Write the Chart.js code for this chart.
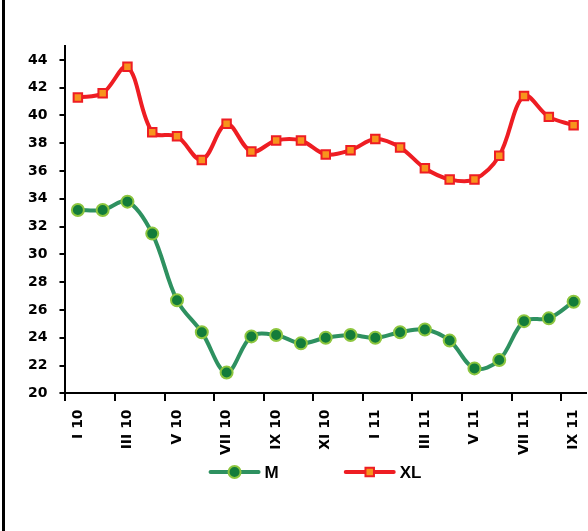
<!DOCTYPE html>
<html>
<head>
<meta charset="utf-8">
<script src="https://cdn.jsdelivr.net/npm/chart.js@4.4.0/dist/chart.umd.min.js"></script>
<style>
  body { margin: 0; background: #fff; }
  .wrap { position: relative; width: 588px; height: 531px; }
  .frame { position: absolute; left: 2px; top: 0; width: 3px; height: 531px; background: #000; }
  canvas { position: absolute; left: 0; top: 0; }
</style>
</head>
<body>
<div class="wrap">
  <div class="frame"></div>
  <canvas id="myChart" width="588" height="531"></canvas>
</div>
<script>
// data
const months = ['I 10', 'II 10', 'III 10', 'IV 10', 'V 10', 'VI 10', 'VII 10', 'VIII 10', 'IX 10', 'X 10', 'XI 10', 'XII 10',
  'I 11', 'II 11', 'III 11', 'IV 11', 'V 11', 'VI 11', 'VII 11', 'VIII 11', 'IX 11'];
const seriesM = [33.2, 33.2, 33.8, 31.5, 26.7, 24.4, 21.5, 24.1, 24.2, 23.6, 24.0, 24.2,
  24.0, 24.4, 24.6, 23.8, 21.8, 22.4, 25.2, 25.4, 26.6];
const seriesXL = [41.3, 41.6, 43.5, 38.8, 38.5, 36.8, 39.4, 37.4, 38.2, 38.2, 37.2, 37.5,
  38.3, 37.7, 36.2, 35.4, 35.4, 37.1, 41.4, 39.9, 39.3];
const yMin = 20;
const yMax = 45;
const yStep = 2;

const tickFont = { family: 'DejaVu Sans', weight: 'bold', size: 14 };

// legend with line + marker, like the spreadsheet one
const lineLegend = {
  id: 'lineLegend',
  afterDraw(chart) {
    const ctx = chart.ctx;
    const y = chart.height - 59;
    const segW = 52;
    const gap = 65;
    ctx.save();
    ctx.font = 'bold 17px "Liberation Sans"';
    const items = chart.data.datasets.map(ds => ({ ds, w: segW + 4 + ctx.measureText(ds.label).width }));
    const total = items.reduce((s, it) => s + it.w, 0) + gap * (items.length - 1);
    let x = chart.width / 2 + 21 - total / 2;
    items.forEach(({ ds, w }) => {
      ctx.strokeStyle = ds.borderColor;
      ctx.lineWidth = ds.borderWidth;
      ctx.lineCap = 'round';
      ctx.beginPath();
      ctx.moveTo(x + 2, y);
      ctx.lineTo(x + segW - 2, y);
      ctx.stroke();
      const cx = x + segW / 2;
      ctx.fillStyle = ds.pointBackgroundColor;
      ctx.strokeStyle = ds.pointBorderColor;
      ctx.lineWidth = ds.pointBorderWidth;
      ctx.beginPath();
      if (ds.pointStyle === 'rect') {
        const s = ds.pointRadius * Math.SQRT1_2;
        ctx.rect(cx - s, y - s, 2 * s, 2 * s);
      } else {
        ctx.arc(cx, y, ds.pointRadius, 0, Math.PI * 2);
      }
      ctx.fill();
      ctx.stroke();
      ctx.fillStyle = '#000';
      ctx.textBaseline = 'middle';
      ctx.textAlign = 'left';
      ctx.fillText(ds.label, x + segW + 4, y + 1);
      x += w + gap;
    });
    ctx.restore();
  }
};

const ctx = document.getElementById('myChart').getContext('2d');
const myChart = new Chart(ctx, {
  type: 'line',
  data: {
    labels: months,
    datasets: [
      {
        label: 'M',
        data: seriesM,
        borderColor: '#2e9160',
        borderWidth: 4,
        tension: 0.35,
        pointStyle: 'circle',
        pointRadius: 6,
        pointBackgroundColor: '#137c3a',
        pointBorderColor: '#8dc63f',
        pointBorderWidth: 2,
      },
      {
        label: 'XL',
        data: seriesXL,
        borderColor: '#ee1d23',
        borderWidth: 4,
        tension: 0.35,
        pointStyle: 'rect',
        pointRadius: 6,
        pointBackgroundColor: '#f7941d',
        pointBorderColor: '#ee1d23',
        pointBorderWidth: 2,
      },
    ]
  },
  options: {
    responsive: false,
    animation: false,
    layout: {
      autoPadding: false,
      padding: { left: 16, top: 46, right: 2, bottom: 76 }
    },
    plugins: {
      legend: { display: false },
      tooltip: { enabled: false },
    },
    scales: {
      x: {
        offset: true,
        afterFit: scale => { scale.paddingRight = 0; },
        border: { color: '#000', width: 2 },
        grid: {
          offset: true,
          drawOnChartArea: false,
          tickLength: 16,
          tickBorderDash: [7, 40],
          lineWidth: 2,
          tickColor: c => (c.index % 2 === 0 ? '#000' : 'rgba(0,0,0,0)'),
        },
        ticks: {
          autoSkip: false,
          minRotation: 90,
          maxRotation: 90,
          padding: 0,
          color: '#000',
          font: tickFont,
          callback: (v, i) => (i % 2 === 0 ? months[i] : ''),
        },
      },
      y: {
        min: yMin,
        max: yMax,
        border: { color: '#000', width: 2 },
        grid: {
          drawOnChartArea: false,
          tickLength: 6,
          lineWidth: 2,
          tickColor: '#000',
        },
        ticks: {
          stepSize: yStep,
          includeBounds: false,
          padding: 12,
          color: '#000',
          font: tickFont,
        },
      },
    }
  },
  plugins: [lineLegend]
});
</script>
</body>
</html>
